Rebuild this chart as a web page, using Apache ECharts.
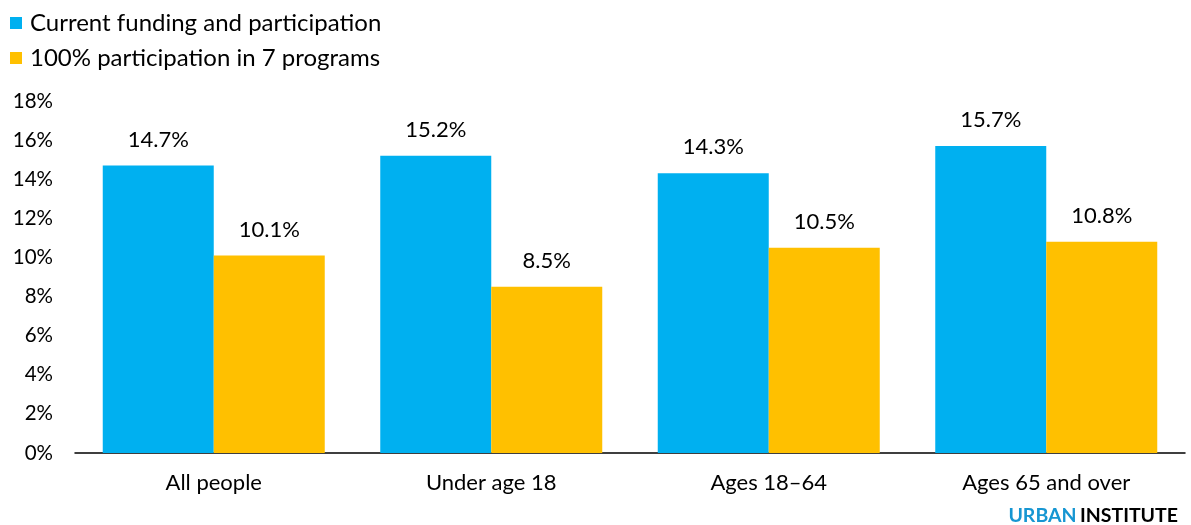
<!DOCTYPE html>
<html>
<head>
<meta charset="utf-8">
<script src="https://cdn.jsdelivr.net/npm/echarts@6/dist/echarts.min.js"></script>
<style>html,body{margin:0;padding:0;background:#fff}#c{width:1191px;height:525px}</style>
</head>
<body>
<div id="c"></div>
<script>
const categories = ["All people", "Under age 18", "Ages 18\u201364", "Ages 65 and over"];
const seriesNames = ["Current funding and participation", "100% participation in 7 programs"];
const currentValues = [14.7, 15.2, 14.3, 15.7];
const fullParticipation = [10.1, 8.5, 10.5, 10.8];
const colors = ["#00B0F0", "#FFC000"];

const chart = echarts.init(document.getElementById('c'));
const font = 'Lato, "Noto Sans", sans-serif';
const labelCfg = {
  show: true, position: 'top', distance: 15,
  formatter: p => p.value.toFixed(1) + '%',
  color: '#000', fontFamily: font, fontSize: 22
};
chart.setOption({
  animation: false,
  textStyle: { fontFamily: font },
  legend: {
    orient: 'vertical', left: 5, top: 6, itemGap: 11,
    itemWidth: 12, itemHeight: 12, icon: 'rect',
    textStyle: { fontFamily: font, fontSize: 24, color: '#000', padding: [0, 0, 0, 3] },
    data: seriesNames
  },
  grid: { left: 75, right: 6, top: 101, bottom: 72, containLabel: false },
  xAxis: {
    type: 'category', data: categories,
    axisLine: { lineStyle: { color: '#000', width: 1.5 } },
    axisTick: { show: false },
    axisLabel: { color: '#000', fontFamily: font, fontSize: 22, margin: 19 }
  },
  yAxis: {
    type: 'value', min: 0, max: 18, interval: 2,
    axisLine: { show: false }, axisTick: { show: false },
    splitLine: { show: false },
    axisLabel: { color: '#000', fontFamily: font, fontSize: 20.5, margin: 22, formatter: v => v + '%' }
  },
  series: [
    { name: seriesNames[0], type: 'bar', data: currentValues, barGap: '0%', barCategoryGap: '20%', itemStyle: { color: colors[0] }, label: labelCfg },
    { name: seriesNames[1], type: 'bar', data: fullParticipation, barGap: '0%', barCategoryGap: '20%', itemStyle: { color: colors[1] }, label: labelCfg }
  ],
  graphic: [{
    type: 'text', right: 13, bottom: -1,
    style: {
      text: '{a|URBAN} {b|INSTITUTE}',
      rich: {
        a: { fill: '#1696D2', fontFamily: font, fontSize: 19.5, fontWeight: 'bold' },
        b: { fill: '#000', fontFamily: font, fontSize: 19.5, fontWeight: 'bold' }
      }
    }
  }]
});
</script>
</body>
</html>
